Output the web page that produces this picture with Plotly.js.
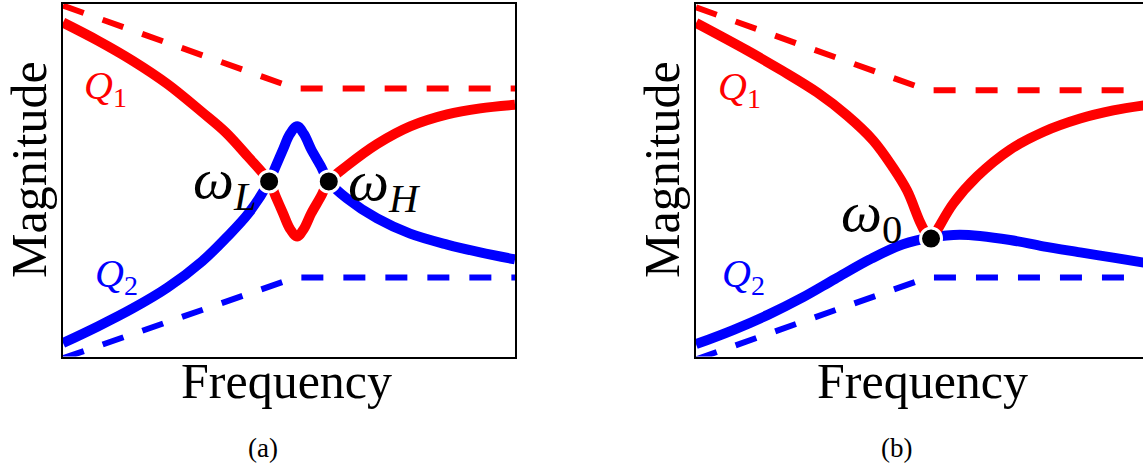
<!DOCTYPE html>
<html><head><meta charset="utf-8">
<script src="https://cdn.plot.ly/plotly-3.0.1.min.js"></script>
<style>html,body{margin:0;padding:0;background:#fff}#chart{width:1143px;height:465px}</style>
</head><body><div id="chart"></div>
<script>
// ---- Panel (a): split resonances (omega_L, omega_H) ----
const aRedX  = [0,0.77,1.54,2.31,3.08,3.60,4.10,4.56,4.71,4.87,5.02,5.18,5.33,5.49,5.70,5.88,6.28,6.95,7.68,8.50,9.23,10];
const aRedY  = [9.46,8.95,8.38,7.72,6.92,6.35,5.65,4.96,4.52,4.05,3.62,3.40,3.62,4.05,4.52,4.96,5.40,6.02,6.52,6.86,7.03,7.13];
const aBlueX = [0,0.77,1.54,2.31,3.08,3.60,4.10,4.56,4.71,4.87,5.02,5.18,5.33,5.49,5.70,5.88,6.28,6.95,7.68,8.50,9.23,10];
const aBlueY = [0.38,0.85,1.36,1.95,2.70,3.35,4.05,4.96,5.40,5.87,6.30,6.52,6.30,5.87,5.40,4.96,4.48,3.91,3.48,3.17,2.95,2.75];
const aRedDashX  = [0,5.15,10];
const aRedDashY  = [9.94,7.59,7.59];
const aBlueDashX = [0,5.15,10];
const aBlueDashY = [-0.05,2.24,2.24];
const aPtsX = [4.56,5.88];
const aPtsY = [4.96,4.96];

// ---- Panel (b): single resonance (omega_0) ----
const bRedLeftX  = [0,1.13,1.90,2.68,3.34,3.92,4.36,4.67,4.96,5.18];
const bRedLeftY  = [9.45,8.67,8.10,7.48,6.83,6.12,5.35,4.70,3.80,3.25];
const bRedRightX = [5.18,5.33,5.69,6.22,6.95,7.68,8.50,9.23,10];
const bRedRightY = [3.25,3.57,4.33,5.10,5.86,6.36,6.74,6.97,7.13];
const bBlueX = [0,0.82,1.59,2.37,3.08,3.89,4.58,5.20,5.84,6.95,7.68,8.50,9.23,10];
const bBlueY = [0.35,0.75,1.18,1.68,2.20,2.78,3.18,3.37,3.45,3.30,3.12,2.95,2.80,2.64];
const bRedDashX  = [0,5.13,10];
const bRedDashY  = [9.89,7.54,7.54];
const bBlueDashX = [0,5.13,10];
const bBlueDashY = [-0.08,2.24,2.24];
const bPtsX = [5.20];
const bPtsY = [3.34];

const RED = '#ff0000', BLUE = '#0000ff';
const SERIF = 'Liberation Serif, Times New Roman, serif';

function dashed(x, y, c, xa, ya) {
  return {x, y, xaxis: xa, yaxis: ya, mode: 'lines', hoverinfo: 'skip',
          line: {color: c, width: 6, dash: '22px,20px'}};
}
function solid(x, y, c, xa, ya) {
  return {x, y, xaxis: xa, yaxis: ya, mode: 'lines', hoverinfo: 'skip',
          line: {color: c, width: 10, shape: 'spline', smoothing: 1}};
}
function pts(x, y, xa, ya) {
  return {x, y, xaxis: xa, yaxis: ya, mode: 'markers', hoverinfo: 'skip',
          marker: {color: '#000', size: 21, line: {color: '#fff', width: 3}}};
}

const data = [
  dashed(aRedDashX, aRedDashY, RED, 'x', 'y'),
  dashed(aBlueDashX, aBlueDashY, BLUE, 'x', 'y'),
  solid(aBlueX, aBlueY, BLUE, 'x', 'y'),
  solid(aRedX, aRedY, RED, 'x', 'y'),
  pts(aPtsX, aPtsY, 'x', 'y'),
  dashed(bRedDashX, bRedDashY, RED, 'x2', 'y2'),
  dashed(bBlueDashX, bBlueDashY, BLUE, 'x2', 'y2'),
  solid(bBlueX, bBlueY, BLUE, 'x2', 'y2'),
  solid(bRedLeftX, bRedLeftY, RED, 'x2', 'y2'),
  solid(bRedRightX, bRedRightY, RED, 'x2', 'y2'),
  pts(bPtsX, bPtsY, 'x2', 'y2')
];

const W = 1143, H = 465;
const px = v => v / W, py = v => 1 - v / H;
const yDom = [py(356.5), py(3.5)];
const axBase = {showgrid: false, zeroline: false, showticklabels: false, ticks: '',
                showline: true, linecolor: '#000', linewidth: 2, fixedrange: true};

function lab(text, x, y, xr, yr, size, color, extra) {
  return Object.assign({text, x, y, xref: xr, yref: yr, showarrow: false,
          xanchor: 'center', yanchor: 'middle',
          font: {family: SERIF, size, color}}, extra || {});
}

const annotations = [
  lab('Magnitude', px(29), py(170), 'paper', 'paper', 50, '#000', {textangle: -90}),
  lab('Frequency', px(287), py(381), 'paper', 'paper', 50, '#000'),
  lab('(a)', px(263), py(448), 'paper', 'paper', 27, '#000'),
  lab('<i>Q</i><sub>1</sub>', 0.95, 7.62, 'x', 'y', 40, RED),
  lab('<i>Q</i><sub>2</sub>', 1.19, 2.27, 'x', 'y', 40, BLUE),
  lab('<i>ω</i><sub><i>L</i></sub>', 3.58, 4.92, 'x', 'y', 58, '#000'),
  lab('<i>ω</i><sub><i>H</i></sub>', 7.12, 4.88, 'x', 'y', 58, '#000'),

  lab('Magnitude', px(662), py(170), 'paper', 'paper', 50, '#000', {textangle: -90}),
  lab('Frequency', px(922), py(381), 'paper', 'paper', 50, '#000'),
  lab('(b)', px(896), py(448), 'paper', 'paper', 27, '#000'),
  lab('<i>Q</i><sub>1</sub>', 0.97, 7.59, 'x2', 'y2', 40, RED),
  lab('<i>Q</i><sub>2</sub>', 1.06, 2.29, 'x2', 'y2', 40, BLUE),
  lab('<i>ω</i><sub>0</sub>', 3.88, 4.0, 'x2', 'y2', 58, '#000')
];

const layout = {
  width: W, height: H, margin: {l: 0, r: 0, t: 0, b: 0},
  paper_bgcolor: '#fff', plot_bgcolor: '#fff', showlegend: false,
  xaxis:  Object.assign({}, axBase, {domain: [px(63), px(515)], range: [0, 10], mirror: true, anchor: 'y'}),
  yaxis:  Object.assign({}, axBase, {domain: yDom, range: [0, 10], mirror: true, anchor: 'x'}),
  xaxis2: Object.assign({}, axBase, {domain: [px(696), 1], range: [0, (W - 696) / 45.2], mirror: true, anchor: 'y2'}),
  yaxis2: Object.assign({}, axBase, {domain: yDom, range: [0, 10], mirror: false, anchor: 'x2'}),
  annotations
};

Plotly.newPlot('chart', data, layout, {staticPlot: true, displayModeBar: false});
</script></body></html>
